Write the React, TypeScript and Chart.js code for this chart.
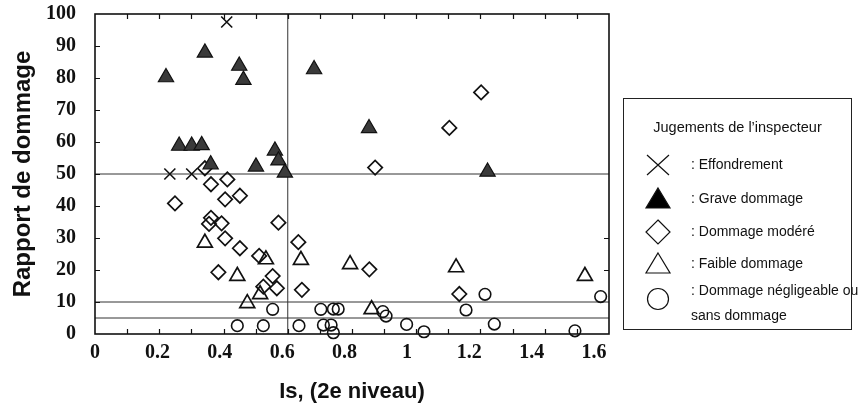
import React, { useEffect, useRef } from "react";
import { Chart, registerables } from "chart.js";

Chart.register(...registerables);

type Pt = { x: number; y: number };

// Inspection results: seismic index Is (2nd level) vs. damage ratio
const effondrement: Pt[] = [
  { x: 0.233, y: 50 }, { x: 0.301, y: 50 }, { x: 0.41, y: 97.5 },
];

const graveDommage: Pt[] = [
  { x: 0.221, y: 80.2 }, { x: 0.262, y: 58.8 }, { x: 0.301, y: 58.8 },
  { x: 0.332, y: 59 }, { x: 0.342, y: 87.9 }, { x: 0.36, y: 53 },
  { x: 0.449, y: 83.8 }, { x: 0.462, y: 79.4 }, { x: 0.501, y: 52.3 },
  { x: 0.56, y: 57.3 }, { x: 0.571, y: 54.2 }, { x: 0.591, y: 50.4 },
  { x: 0.682, y: 82.7 }, { x: 0.853, y: 64.3 }, { x: 1.222, y: 50.7 },
];

const dommageModere: Pt[] = [
  { x: 0.249, y: 40.8 }, { x: 0.342, y: 51.8 }, { x: 0.355, y: 34.4 },
  { x: 0.361, y: 46.8 }, { x: 0.361, y: 36.3 }, { x: 0.384, y: 19.3 },
  { x: 0.394, y: 34.6 }, { x: 0.405, y: 42.1 }, { x: 0.405, y: 29.9 },
  { x: 0.412, y: 48.3 }, { x: 0.451, y: 43.2 }, { x: 0.451, y: 26.8 },
  { x: 0.511, y: 24.4 }, { x: 0.524, y: 14.8 }, { x: 0.553, y: 18.1 },
  { x: 0.566, y: 14.3 }, { x: 0.571, y: 34.8 }, { x: 0.633, y: 28.7 },
  { x: 0.644, y: 13.8 }, { x: 0.854, y: 20.2 }, { x: 0.872, y: 52 },
  { x: 1.103, y: 64.4 }, { x: 1.134, y: 12.5 }, { x: 1.202, y: 75.5 },
];

const faibleDommage: Pt[] = [
  { x: 0.342, y: 28.5 }, { x: 0.443, y: 18.1 }, { x: 0.474, y: 9.6 },
  { x: 0.514, y: 12.4 }, { x: 0.532, y: 23.3 }, { x: 0.641, y: 23.1 },
  { x: 0.794, y: 21.8 }, { x: 0.861, y: 7.7 }, { x: 1.124, y: 20.8 },
  { x: 1.525, y: 18.1 },
];

const dommageNegligeable: Pt[] = [
  { x: 0.443, y: 2.6 }, { x: 0.524, y: 2.6 }, { x: 0.553, y: 7.7 },
  { x: 0.635, y: 2.6 }, { x: 0.703, y: 7.7 }, { x: 0.711, y: 2.8 },
  { x: 0.735, y: 2.8 }, { x: 0.742, y: 7.8 }, { x: 0.742, y: 0.4 },
  { x: 0.757, y: 7.8 }, { x: 0.896, y: 7 }, { x: 0.906, y: 5.6 },
  { x: 0.97, y: 3 }, { x: 1.024, y: 0.7 }, { x: 1.155, y: 7.5 },
  { x: 1.214, y: 12.4 }, { x: 1.243, y: 3.1 }, { x: 1.494, y: 1 },
  { x: 1.574, y: 11.7 },
];

// Threshold lines
const seuilsRapport = [50, 10, 5];
const seuilIs = 0.6;

// Axis ranges and tick marks
const xMin = 0;
const xMax = 1.6;
const yMin = 0;
const yMax = 100;
const xTickMarks = [0.1, 0.2, 0.3, 0.4, 0.5, 0.6, 0.7, 0.8, 0.9, 1.0, 1.1, 1.2, 1.3, 1.4, 1.5];
const yTickMarks = [10, 20, 30, 40, 50, 60, 70, 80, 90];
const yRightTickMarks = [20, 30];
const xLabelStep = 0.2;
const yLabelStep = 10;
// the printed x labels sit on a slightly tighter spacing than the tick marks
const xLabelAxisMax = 1.648;

const legendTitle = "Jugements de l\u2019inspecteur";

const W = 859;
const H = 405;
const INK = "#111";
const SERIF = "'Liberation Serif', 'Times New Roman', serif";
const SANS = "'Liberation Sans', Arial, sans-serif";

type MarkerKind = "cross" | "triFilled" | "diamond" | "triOpen" | "circle";

const series: { label: string[]; data: Pt[]; kind: MarkerKind }[] = [
  { label: [": Effondrement"], data: effondrement, kind: "cross" },
  { label: [": Grave dommage"], data: graveDommage, kind: "triFilled" },
  { label: [": Dommage modéré"], data: dommageModere, kind: "diamond" },
  { label: [": Faible dommage"], data: faibleDommage, kind: "triOpen" },
  { label: [": Dommage négligeable ou", "sans dommage"], data: dommageNegligeable, kind: "circle" },
];

const markerStyle: Record<MarkerKind, any> = {
  cross: { pointStyle: "crossRot", pointRadius: 7.8, pointBackgroundColor: "rgba(0,0,0,0)", pointBorderColor: INK, pointBorderWidth: 1.6 },
  triFilled: { pointStyle: "triangle", pointRadius: 8.8, pointBackgroundColor: "#3a3a3a", pointBorderColor: INK, pointBorderWidth: 1.2 },
  diamond: { pointStyle: "rectRot", pointRadius: 7.2, pointBackgroundColor: "rgba(255,255,255,0)", pointBorderColor: INK, pointBorderWidth: 1.7 },
  triOpen: { pointStyle: "triangle", pointRadius: 8.6, pointBackgroundColor: "rgba(255,255,255,0)", pointBorderColor: INK, pointBorderWidth: 1.7 },
  circle: { pointStyle: "circle", pointRadius: 5.8, pointBackgroundColor: "rgba(255,255,255,0)", pointBorderColor: INK, pointBorderWidth: 1.6 },
};

function drawLegendSymbol(ctx: CanvasRenderingContext2D, kind: MarkerKind, x: number, y: number) {
  ctx.save();
  ctx.strokeStyle = INK;
  ctx.lineWidth = 1.2;
  ctx.beginPath();
  if (kind === "cross") {
    ctx.moveTo(x - 11, y - 10);
    ctx.lineTo(x + 11, y + 10);
    ctx.moveTo(x + 11, y - 10);
    ctx.lineTo(x - 11, y + 10);
    ctx.stroke();
  } else if (kind === "triFilled" || kind === "triOpen") {
    ctx.moveTo(x, y - 11);
    ctx.lineTo(x + 12, y + 9);
    ctx.lineTo(x - 12, y + 9);
    ctx.closePath();
    if (kind === "triFilled") {
      ctx.fillStyle = "#000";
      ctx.fill();
    }
    ctx.stroke();
  } else if (kind === "diamond") {
    ctx.moveTo(x, y - 12);
    ctx.lineTo(x + 12, y);
    ctx.lineTo(x, y + 12);
    ctx.lineTo(x - 12, y);
    ctx.closePath();
    ctx.stroke();
  } else {
    ctx.arc(x, y, 10.5, 0, Math.PI * 2);
    ctx.stroke();
  }
  ctx.restore();
}

// Plot frame with inward tick marks on all sides
const framePlugin = {
  id: "frameTicks",
  afterDatasetsDraw(chart: any) {
    const { ctx, chartArea: a, scales } = chart;
    const xs = scales.x;
    const ys = scales.y;
    const len = 5;
    ctx.save();
    ctx.strokeStyle = INK;
    ctx.lineWidth = 1.2;
    ctx.beginPath();
    for (const v of xTickMarks) {
      const px = Math.round(xs.getPixelForValue(v)) + 0.5;
      ctx.moveTo(px, a.bottom);
      ctx.lineTo(px, a.bottom - len);
      ctx.moveTo(px, a.top);
      ctx.lineTo(px, a.top + len);
    }
    for (const v of yTickMarks) {
      const py = Math.round(ys.getPixelForValue(v)) + 0.5;
      ctx.moveTo(a.left, py);
      ctx.lineTo(a.left + len, py);
    }
    for (const v of yRightTickMarks) {
      const py = Math.round(ys.getPixelForValue(v)) + 0.5;
      ctx.moveTo(a.right, py);
      ctx.lineTo(a.right - len, py);
    }
    ctx.stroke();
    ctx.lineWidth = 1.6;
    ctx.strokeRect(a.left, a.top, a.right - a.left, a.bottom - a.top);
    ctx.restore();
  },
};

// Boxed legend to the right of the plot
const legendPlugin = {
  id: "boxLegend",
  afterDraw(chart: any) {
    const { ctx } = chart;
    const box = { left: 623.5, top: 98.5, right: 851.5, bottom: 329.5 };
    ctx.save();
    ctx.strokeStyle = "#222";
    ctx.lineWidth = 1;
    ctx.strokeRect(box.left, box.top, box.right - box.left, box.bottom - box.top);
    ctx.fillStyle = INK;
    ctx.font = `14.5px ${SANS}`;
    ctx.textBaseline = "middle";
    ctx.textAlign = "center";
    ctx.fillText(legendTitle, (box.left + box.right) / 2, 128);
    ctx.font = `14px ${SANS}`;
    ctx.textAlign = "left";
    const rowY = [165, 199, 232, 264, 299];
    series.forEach((s, i) => {
      const y = rowY[i];
      drawLegendSymbol(ctx, s.kind, 658, y);
      if (s.label.length === 1) {
        ctx.fillText(s.label[0], 691, y);
      } else {
        ctx.fillText(s.label[0], 691, y - 8);
        ctx.fillText(s.label[1], 691, y + 17);
      }
    });
    ctx.restore();
  },
};

export default function App() {
  const ref = useRef<HTMLCanvasElement>(null);

  useEffect(() => {
    const canvas = ref.current;
    if (!canvas) return;

    const lineDs = (pts: Pt[]) => ({
      data: pts,
      showLine: true,
      borderColor: "#333",
      borderWidth: 1,
      pointRadius: 0,
      order: 10,
      clip: false,
    });

    const datasets: any[] = [
      ...seuilsRapport.map((v) => lineDs([{ x: xMin, y: v }, { x: xMax, y: v }])),
      lineDs([{ x: seuilIs, y: yMin }, { x: seuilIs, y: yMax }]),
      ...series.map((s) => ({
        label: s.label.join(" "),
        data: s.data,
        showLine: false,
        order: 0,
        clip: false,
        ...markerStyle[s.kind],
      })),
    ];

    const chart = new Chart(canvas, {
      type: "scatter",
      data: { datasets },
      options: {
        responsive: false,
        animation: false,
        devicePixelRatio: 1,
        events: [],
        layout: { padding: { top: 14, right: W - 609, left: 0, bottom: 0 } },
        plugins: {
          legend: { display: false },
          tooltip: { enabled: false },
        },
        scales: {
          x: {
            type: "linear",
            min: xMin,
            max: xMax,
            display: false,
          },
          xLabel: {
            type: "linear",
            position: "bottom",
            min: xMin,
            max: xLabelAxisMax,
            grid: { display: false, drawTicks: false },
            border: { display: false },
            ticks: {
              stepSize: xLabelStep,
              includeBounds: false,
              padding: 7,
              color: INK,
              font: { family: SERIF, weight: "bold", size: 20 },
              callback: (v: any) => String(Math.round(Number(v) * 10) / 10),
            },
            title: {
              display: true,
              text: "Is, (2e niveau)",
              color: INK,
              font: { family: SANS, weight: "bold", size: 22, lineHeight: 1.2 },
              padding: { top: 0, bottom: 0 },
            },
            afterFit: (scale: any) => {
              scale.height = H - 334;
            },
          } as any,
          y: {
            type: "linear",
            min: yMin,
            max: yMax,
            grid: { display: false, drawTicks: false },
            border: { display: false },
            ticks: {
              stepSize: yLabelStep,
              padding: 19,
              color: INK,
              font: { family: SERIF, weight: "bold", size: 20 },
            },
            title: {
              display: true,
              text: "Rapport de dommage",
              color: INK,
              font: { family: SANS, weight: "bold", size: 24, lineHeight: 1.2 },
              padding: { top: 9, bottom: 0 },
            },
            afterFit: (scale: any) => {
              scale.width = 95;
              // keep the plot frame where the layout padding puts it
              scale.paddingTop = 0;
              scale.paddingBottom = 0;
            },
          } as any,
        },
      },
      plugins: [framePlugin, legendPlugin],
    } as any);

    return () => chart.destroy();
  }, []);

  return (
    <div style={{ position: "absolute", left: 0, top: 0, width: W, height: H, background: "#fff" }}>
      <canvas ref={ref} width={W} height={H} style={{ display: "block", width: W, height: H }} />
    </div>
  );
}
